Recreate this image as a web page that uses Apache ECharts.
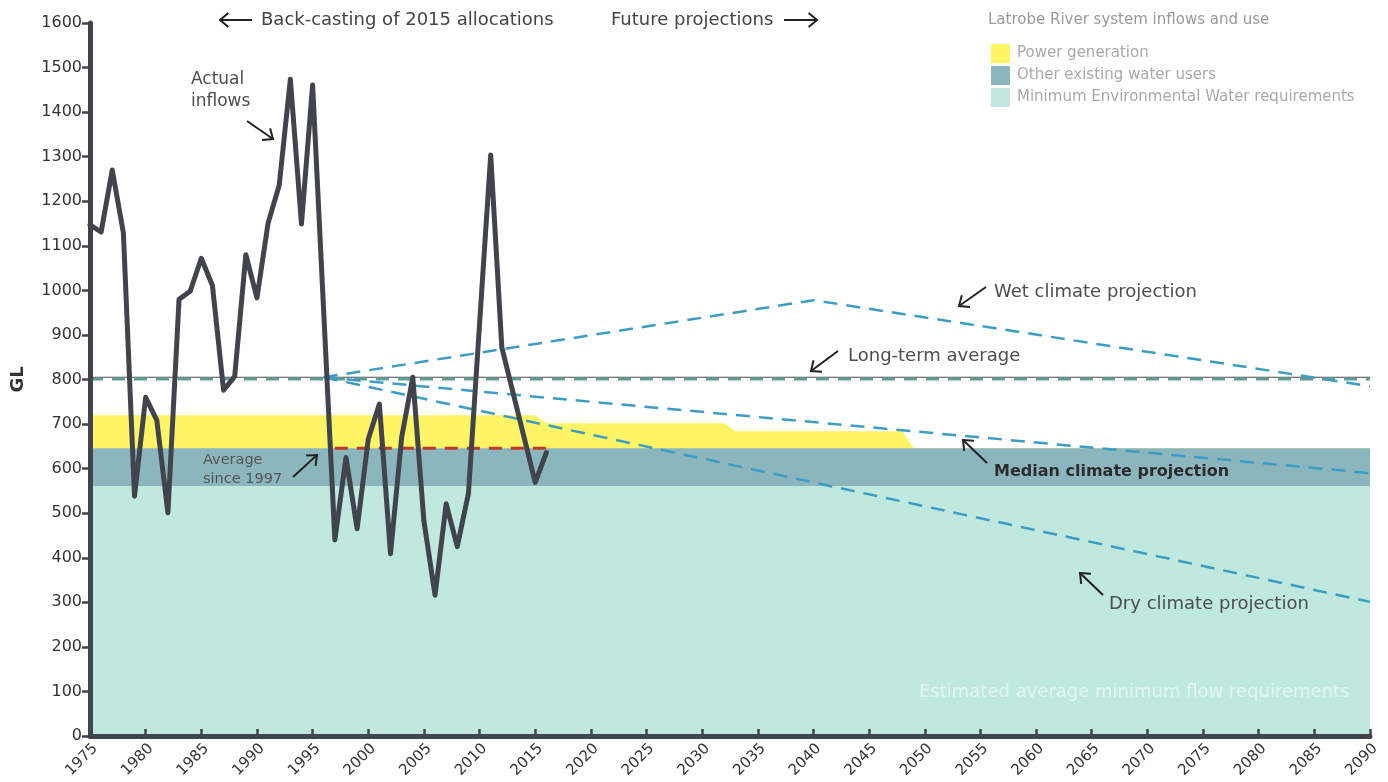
<!DOCTYPE html>
<html>
<head>
<meta charset="utf-8">
<title>Latrobe River system inflows and use</title>
<script src="https://cdn.jsdelivr.net/npm/echarts@6/dist/echarts.min.js"></script>
<style>
  html, body { margin: 0; padding: 0; background: #fff; }
  #chart { width: 1388px; height: 782px; }
</style>
</head>
<body>
<div id="chart"></div>
<script>
// ---- data (GL per year) ----
var inflowYears = [1975, 1976, 1977, 1978, 1979, 1980, 1981, 1982, 1983, 1984,
  1985, 1986, 1987, 1988, 1989, 1990, 1991, 1992, 1993, 1994,
  1995, 1996, 1997, 1998, 1999, 2000, 2001, 2002, 2003, 2004,
  2005, 2006, 2007, 2008, 2009, 2010, 2011, 2012, 2013, 2014,
  2015, 2016];
var inflowValues = [1147, 1131, 1270, 1129, 538, 760, 709, 501, 980, 998,
  1072, 1011, 776, 807, 1080, 983, 1151, 1236, 1474, 1149,
  1461, 950, 440, 625, 465, 666, 745, 409, 670, 805,
  482, 316, 521, 425, 544, 925, 1304, 872, 771, 670,
  569, 636];

var powerYears = [1975, 2015, 2016, 2032, 2033, 2048, 2049, 2090];
var powerTop = [720, 720, 702, 702, 684, 684, 646, 646];

var otherUsersYears = [1975, 2090];
var otherUsersTop = [646, 646];

var envWaterYears = [1975, 2090];
var envWaterTop = [561, 561];

var longTermYears = [1975, 2090];
var longTermAvg = [805, 805];

var avg1997Years = [1997, 2016];
var avg1997 = [646, 646];

var wetYears = [1996, 2040, 2090];
var wetValues = [805, 978, 785];
var medianYears = [1996, 2090];
var medianValues = [805, 590];
var dryYears = [1996, 2090];
var dryValues = [805, 301];

var yTicks = { min: 0, max: 1600, interval: 100 };
var xTicks = { min: 1975, max: 2090, interval: 5 };

function pairs(xs, ys) {
  return xs.map(function (x, i) { return [x, ys[i]]; });
}

var FONT = 'DejaVu Sans';
var chart = echarts.init(document.getElementById('chart'), null, { renderer: 'canvas' });

function areaSeries(name, xs, ys, color, z) {
  return {
    name: name,
    type: 'line',
    data: pairs(xs, ys),
    color: color,
    itemStyle: { color: color },
    lineStyle: { width: 0, color: color },
    areaStyle: { color: color, opacity: 1 },
    symbol: 'none',
    z: z,
    silent: true
  };
}

function dashSeries(name, xs, ys, color, width, dash, z) {
  return {
    name: name,
    type: 'line',
    data: pairs(xs, ys),
    symbol: 'none',
    lineStyle: { color: color, width: width, type: dash },
    z: z,
    silent: true
  };
}

function arrow(x1, y1, x2, y2) {
  var a = Math.atan2(y2 - y1, x2 - x1);
  var h = 11, s = 0.7;
  return {
    type: 'group',
    silent: true,
    z: 100,
    children: [
      { type: 'line', z: 100, shape: { x1: x1, y1: y1, x2: x2, y2: y2 },
        style: { stroke: '#222', lineWidth: 2 } },
      { type: 'polyline', z: 100, shape: { points: [
          [x2 - h * Math.cos(a - s), y2 - h * Math.sin(a - s)],
          [x2, y2],
          [x2 - h * Math.cos(a + s), y2 - h * Math.sin(a + s)]
        ] },
        style: { stroke: '#222', lineWidth: 2, fill: null } }
    ]
  };
}

function label(text, x, y, opts) {
  opts = opts || {};
  return {
    type: 'text', x: x, y: y, silent: true, z: 100,
    style: {
      text: text,
      fill: opts.color || '#4d4d4d',
      font: (opts.weight || 'normal') + ' ' + (opts.size || 18) + 'px "' + FONT + '"',
      textVerticalAlign: 'middle',
      textAlign: opts.align || 'left',
      lineHeight: opts.lineHeight || 22
    }
  };
}

var option = {
  animation: false,
  backgroundColor: '#fff',
  textStyle: { fontFamily: FONT },
  grid: { left: 90, right: 18, top: 23, bottom: 46 },
  legend: {
    data: ['Power generation', 'Other existing water users', 'Minimum Environmental Water requirements'],
    orient: 'vertical',
    left: 986,
    top: 39,
    icon: 'rect',
    itemWidth: 19,
    itemHeight: 19,
    itemGap: 3,
    selectedMode: false,
    textStyle: { color: '#a9a9a9', fontSize: 15, fontFamily: FONT, padding: [0, 0, 0, 2] }
  },
  xAxis: {
    type: 'value',
    min: xTicks.min,
    max: xTicks.max,
    interval: xTicks.interval,
    z: 20,
    splitLine: { show: false },
    axisLine: { lineStyle: { color: '#41444d', width: 5 } },
    axisTick: { inside: true, length: 7, lineStyle: { color: '#41444d', width: 2.5 } },
    axisLabel: { rotate: 45, color: '#333', fontSize: 15, margin: 5, verticalAlign: 'top',
      fontFamily: FONT, formatter: function (v) { return String(v); } }
  },
  yAxis: {
    type: 'value',
    min: yTicks.min,
    max: yTicks.max,
    interval: yTicks.interval,
    z: 20,
    name: 'GL',
    nameLocation: 'middle',
    nameGap: 63,
    nameTextStyle: { color: '#333', fontSize: 18, fontWeight: 'bold', fontFamily: FONT },
    splitLine: { show: false },
    axisLine: { show: true, lineStyle: { color: '#41444d', width: 5 } },
    axisTick: { show: true, length: 8, lineStyle: { color: '#41444d', width: 2.5 } },
    axisLabel: { color: '#333', fontSize: 16, margin: 8, fontFamily: FONT,
      formatter: function (v) { return String(v); } }
  },
  series: [
    areaSeries('Power generation', powerYears, powerTop, '#fdf466', 1),
    areaSeries('Other existing water users', otherUsersYears, otherUsersTop, '#8cb6be', 2),
    areaSeries('Minimum Environmental Water requirements', envWaterYears, envWaterTop, '#bfe8df', 3),
    dashSeries('Long-term average line', longTermYears, longTermAvg, '#4a4a4a', 1, 'solid', 4),
    dashSeries('Long-term average', longTermYears, [longTermAvg[0] - 4, longTermAvg[1] - 4], '#5c9e95', 3, [13, 9], 5),
    dashSeries('Average since 1997', avg1997Years, avg1997, '#c0392b', 3, [13, 9], 5),
    dashSeries('Wet climate projection', wetYears, wetValues, '#3c9dc4', 2.5, [14, 9], 6),
    dashSeries('Median climate projection', medianYears, medianValues, '#3c9dc4', 2.5, [14, 9], 6),
    dashSeries('Dry climate projection', dryYears, dryValues, '#3c9dc4', 2.5, [14, 9], 6),
    {
      name: 'Actual inflows',
      type: 'line',
      data: pairs(inflowYears, inflowValues),
      symbol: 'none',
      lineStyle: { color: '#41444d', width: 5, join: 'round', cap: 'round' },
      z: 8,
      silent: true
    }
  ],
  graphic: [
    label('Latrobe River system inflows and use', 988, 20, { color: '#999', size: 15 }),
    arrow(252, 20, 220, 20),
    label('Back-casting of 2015 allocations', 261, 20, { color: '#444' }),
    label('Future projections', 611, 20, { color: '#444' }),
    arrow(784, 20, 817, 20),
    label('Actual\ninflows', 191, 91, { color: '#4d4d4d', size: 17 }),
    arrow(247, 121, 273, 139),
    label('Average\nsince 1997', 203, 470, { color: '#555', size: 14.5, lineHeight: 19 }),
    arrow(293, 477, 317, 455),
    label('Wet climate projection', 994, 292),
    arrow(986, 287, 959, 306),
    label('Long-term average', 848, 356),
    arrow(838, 351, 811, 371),
    label('Median climate projection', 994, 472, { color: '#2d2d2d', weight: 'bold', size: 16 }),
    arrow(987, 463, 963, 440),
    label('Dry climate projection', 1109, 604),
    arrow(1103, 595, 1080, 573),
    label('Estimated average minimum flow requirements', 919, 692, { color: 'rgba(255,255,255,0.55)', size: 18 })
  ]
};

chart.setOption(option);
</script>
</body>
</html>
